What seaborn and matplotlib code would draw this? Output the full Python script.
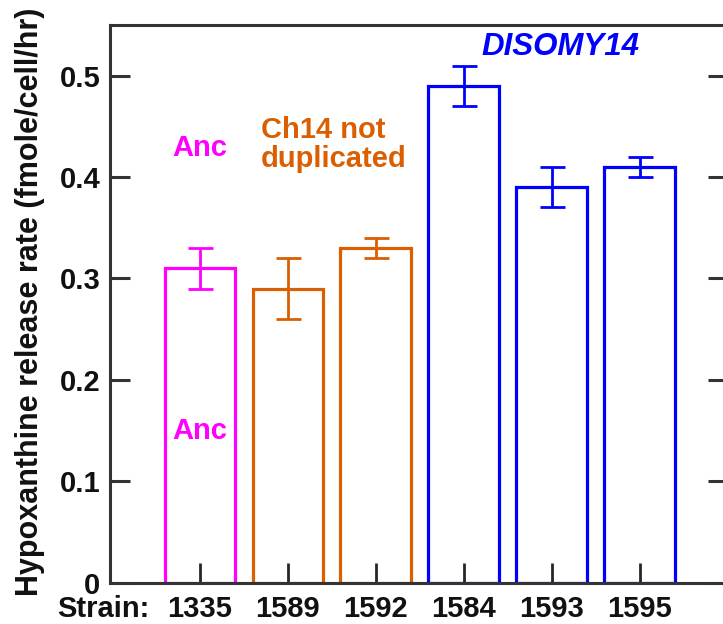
import matplotlib
matplotlib.use("Agg")
import matplotlib.pyplot as plt
import seaborn as sns
import pandas as pd
from matplotlib.ticker import FuncFormatter

strains = ["1335", "1589", "1592", "1584", "1593", "1595"]
rates = [0.31, 0.29, 0.33, 0.49, 0.39, 0.41]
errors = [0.02, 0.03, 0.01, 0.02, 0.02, 0.01]
MAGENTA, ORANGE, BLUE = "#FF00FF", "#D95F02", "#0000FF"
colors = [MAGENTA, ORANGE, ORANGE, BLUE, BLUE, BLUE]
yticks = [0, 0.1, 0.2, 0.3, 0.4, 0.5]

sns.set_style("white")
plt.rcParams["font.family"] = ["Liberation Sans", "DejaVu Sans"]
plt.rcParams["font.weight"] = "bold"

df = pd.DataFrame({"strain": strains, "rate": rates})

fig = plt.figure(figsize=(7.23, 6.24), dpi=100)
ax = fig.add_axes([110 / 723, (624 - 582.5) / 624, (727.5 - 110) / 723, (582.5 - 25) / 624])

sns.barplot(data=df, x="strain", y="rate", hue="strain", palette=colors,
            fill=False, linewidth=2.3, width=0.8, legend=False, errorbar=None, ax=ax)
for p, c in zip(ax.patches, colors):
    p.set_edgecolor(c)
    p.set_facecolor("none")
    p.set_linewidth(2.3)

for i, (v, e, c) in enumerate(zip(rates, errors, colors)):
    ax.errorbar(i, v, yerr=e, color=c, capsize=9, capthick=2.0, elinewidth=2.0, fmt="none")

ax.set_xlim(-1.02, 6.0)
ax.set_ylim(0, 0.55)
ax.set_yticks(yticks)
ax.yaxis.set_major_formatter(FuncFormatter(lambda v, p: "0" if v == 0 else f"{v:.1f}"))

for s in ax.spines.values():
    s.set_color("#333333")
    s.set_linewidth(2.2)
    s.set_visible(True)

ax.tick_params(axis="y", direction="in", length=14.4, width=2.2, color="#333333",
               left=True, right=True, labelsize=21, pad=7)
ax.tick_params(axis="x", direction="in", length=14.4, width=2.0, bottom=True,
               labelsize=21, pad=9)
for t, c in zip(ax.xaxis.get_major_ticks(), colors):
    t.tick1line.set_color(c)
for lab in ax.get_xticklabels() + ax.get_yticklabels():
    lab.set_fontweight("bold")
    lab.set_color("#111111")

ax.set_xlabel("")
ax.set_ylabel("Hypoxanthine release rate (fmole/cell/hr)", fontsize=22,
              fontweight="bold", color="#111111")
ax.yaxis.set_label_coords(-0.105, 0.504)

ax.annotate("Strain:", xy=(-0.57, 0), xycoords=("data", "axes fraction"),
            xytext=(0, -9), textcoords="offset points", ha="right", va="top",
            fontsize=21, fontweight="bold", color="#111111")

ax.text(0, 0.429, "Anc", color=MAGENTA, fontsize=21, fontweight="bold", ha="center", va="center")
ax.text(0, 0.149, "Anc", color=MAGENTA, fontsize=21, fontweight="bold", ha="center", va="center")
ax.text(1.52, 0.432, "Ch14 not\nduplicated", color=ORANGE, fontsize=21, fontweight="bold",
        ha="center", va="center", multialignment="left", linespacing=1.05)
ax.text(4.1, 0.528, "DISOMY14", color=BLUE, fontsize=22.5, fontweight="bold",
        fontstyle="italic", ha="center", va="center")

fig.savefig("out.png", dpi=100)
